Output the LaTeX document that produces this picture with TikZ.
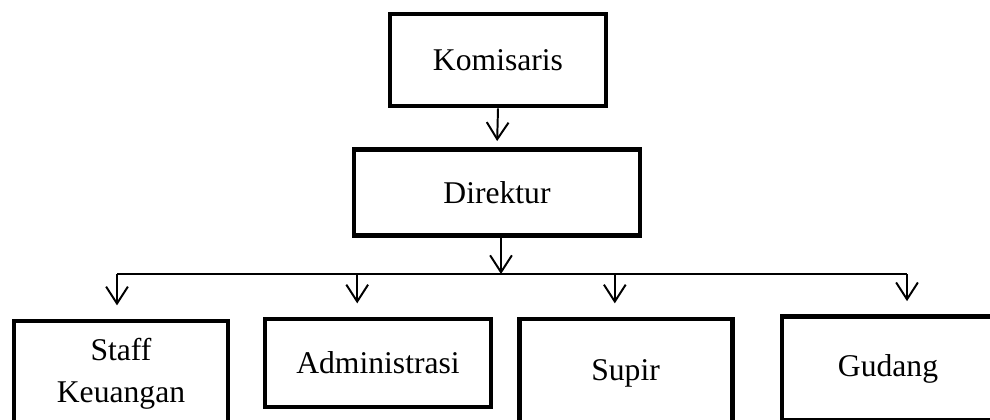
\documentclass[tikz,border=0pt]{standalone}
\usepackage{fontspec}
\setmainfont{Liberation Serif}
\usepackage{xcolor}
\usepackage{tikz}
\usetikzlibrary{arrows.meta}
\definecolor{ink}{HTML}{000000}
\tikzset{
  box/.style={draw=ink, line width=3.5pt, align=center, inner sep=0pt,
    font=\fontsize{22.5}{30}\selectfont},
  conn/.style={draw=ink, line width=1.4pt},
  arr/.style={conn, -{Straight Barb[length=12pt, width=15.5pt, line width=1.4pt]}}
}

\begin{document}
\begin{tikzpicture}
  \useasboundingbox (0,0) rectangle (24.75,10.475);
  \clip (0,0) rectangle (24.75,10.475);

  \node[box, minimum width=5.4cm, minimum height=2.3cm] (kom) at (12.45,8.975) {Komisaris};
  \node[box, minimum width=7.15cm, minimum height=2.15cm] (dir) at (12.425,5.6625) {Direktur};

  \node[box, minimum width=5.35cm, minimum height=2.65cm] (staff) at (3.025,1.125) {Staff\\Keuangan};
  \node[box, minimum width=5.65cm, minimum height=2.2cm] (admin) at (9.45,1.4) {Administrasi};
  \node[box, minimum width=5.325cm, minimum height=2.7cm] (supir) at (15.64,1.15) {Supir};
  \node[box, minimum width=5.3cm, minimum height=2.5925cm] (gudang) at (22.2,1.25875) {Gudang};

  % bus line under Direktur
  \coordinate (b1) at (2.925,3.625);
  \coordinate (b2) at (8.93,3.625);
  \coordinate (b3) at (15.37,3.625);
  \coordinate (b4) at (22.675,3.625);
  \draw[conn] (b1) -- (b4);

  \draw[arr, shorten >=0.15cm] (kom.south) -- (dir.north);
  \draw[arr] ([xshift=0.1cm]dir.south) -- ([xshift=0.1cm]dir.south |- b1);

  \draw[arr, shorten >=0.33cm] (b1) -- (b1 |- staff.north);
  \draw[arr, shorten >=0.33cm] (b2) -- (b2 |- admin.north);
  \draw[arr, shorten >=0.33cm] (b3) -- (b3 |- supir.north);
  \draw[arr, shorten >=0.33cm] (b4) -- (b4 |- gudang.north);
\end{tikzpicture}
\end{document}
